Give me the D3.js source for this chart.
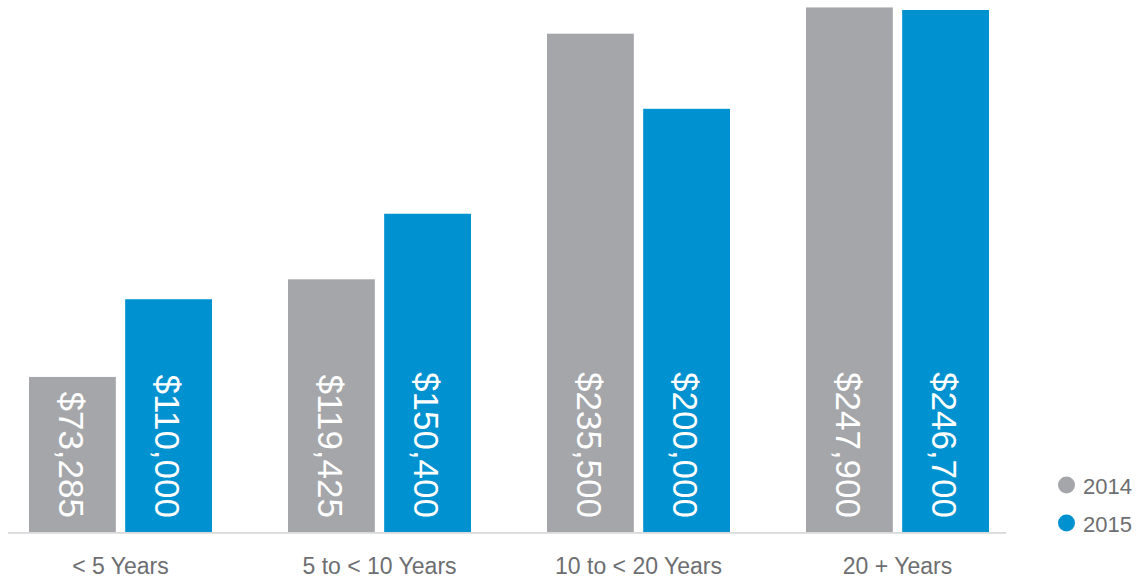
<!DOCTYPE html>
<html>
<head>
<meta charset="utf-8">
<script src="https://cdn.jsdelivr.net/npm/d3@7"></script>
<style>
  html, body { margin: 0; padding: 0; background: #ffffff; }
  svg { display: block; }
  text { font-family: "Liberation Sans", Arial, Helvetica, sans-serif; }
</style>
</head>
<body>
<svg id="chart" width="1139" height="582"></svg>
<script>
const categories = ["< 5 Years", "5 to < 10 Years", "10 to < 20 Years", "20 + Years"];
const seriesNames = ["2014", "2015"];
const values2014 = [73285, 119425, 235500, 247900];
const values2015 = [110000, 150400, 200000, 246700];
const seriesColors = ["#a4a6a9", "#0091d0"];

const svg = d3.select("#chart");
const baseY = 532;

const x = d3.scaleBand()
  .domain(categories)
  .range([-9, 1027])
  .paddingInner(76 / 259)
  .paddingOuter(38 / 259);

const xInner = d3.scaleBand()
  .domain(seriesNames)
  .range([0, x.bandwidth()])
  .paddingInner(9 / 92.5)
  .paddingOuter(0);

const y = d3.scaleLinear().domain([0, 250000]).range([baseY, 3]);

const data = [];
categories.forEach((c, i) => {
  data.push({ cat: c, series: "2014", value: values2014[i] });
  data.push({ cat: c, series: "2015", value: values2015[i] });
});

const fmt = d3.format("$,");

const bars = svg.append("g");
bars.selectAll("rect")
  .data(data)
  .join("rect")
  .attr("x", d => x(d.cat) + xInner(d.series))
  .attr("y", d => y(d.value))
  .attr("width", xInner.bandwidth())
  .attr("height", d => baseY - y(d.value))
  .attr("fill", d => seriesColors[seriesNames.indexOf(d.series)]);

bars.selectAll("text")
  .data(data)
  .join("text")
  .attr("transform", d => {
    const cx = x(d.cat) + xInner(d.series) + xInner.bandwidth() / 2;
    return `translate(${cx},${baseY - 14}) rotate(90)`;
  })
  .attr("text-anchor", "end")
  .attr("dy", "0.38em")
  .attr("fill", "#ffffff")
  .style("font-size", "35px")
  .text(d => fmt(d.value));

// baseline axis line
svg.append("line")
  .attr("x1", 8).attr("x2", 1006)
  .attr("y1", baseY + 0.9).attr("y2", baseY + 0.9)
  .attr("stroke", "#d9d9d9")
  .attr("stroke-width", 1.8);

// category labels via axis
const axis = d3.axisBottom(x).tickSize(0).tickPadding(0);
const ax = svg.append("g")
  .attr("transform", `translate(0,${baseY})`)
  .call(axis);
ax.select(".domain").remove();
ax.selectAll("text")
  .attr("y", 42)
  .attr("dy", 0)
  .attr("fill", "#6d6e71")
  .style("font-size", "23px")
  .style("font-family", "'Liberation Sans', Arial, Helvetica, sans-serif");

// legend
const legend = svg.append("g");
seriesNames.forEach((s, i) => {
  const ly = 485 + i * 38;
  legend.append("circle")
    .attr("cx", 1066.5).attr("cy", ly).attr("r", 8.5)
    .attr("fill", seriesColors[i]);
  legend.append("text")
    .attr("x", 1083).attr("y", ly + 9)
    .attr("fill", "#6d6e71")
    .style("font-size", "22px")
    .text(s);
});
</script>
</body>
</html>
